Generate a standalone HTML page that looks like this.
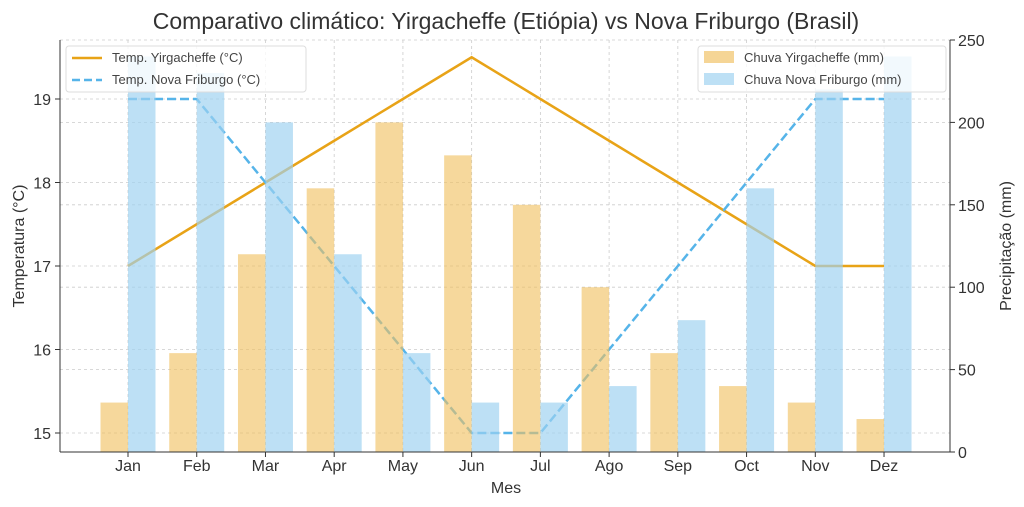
<!DOCTYPE html>
<html><head><meta charset="utf-8"><style>body{margin:0;background:#fff}svg{display:block;font-family:"Liberation Sans","DejaVu Sans",sans-serif}</style></head>
<body>
<svg width="1024" height="507" viewBox="0 0 1024 507" xmlns="http://www.w3.org/2000/svg">
<rect width="1024" height="507" fill="#fff"/>
<text x="506" y="29" font-size="23" text-anchor="middle" fill="#333">Comparativo climático: Yirgacheffe (Etiópia) vs Nova Friburgo (Brasil)</text>
<g stroke="#ccc" stroke-dasharray="3,3" stroke-width="0.8" id="grid"></g>
<g id="lines"></g>
<g id="bars"></g>
<g id="axes"></g>
<line x1="60" y1="40" x2="60" y2="452" stroke="#333" stroke-width="1"/>
<line x1="950" y1="40" x2="950" y2="452" stroke="#333" stroke-width="1"/>
<line x1="60" y1="452" x2="950" y2="452" stroke="#333" stroke-width="1"/>
<text transform="translate(24,246) rotate(-90)" font-size="16" text-anchor="middle" fill="#333">Temperatura (°C)</text>
<text transform="translate(1011,246) rotate(-90)" font-size="16" text-anchor="middle" fill="#333">Precipitação (mm)</text>
<text x="506" y="493" font-size="16" text-anchor="middle" fill="#333">Mes</text>
<g font-size="13" fill="#444">
<rect x="66" y="46" width="240" height="46" fill="#fff" fill-opacity="0.8" stroke="#ddd" rx="3"/>
<line x1="72" y1="58" x2="102" y2="58" stroke="#e8a317" stroke-width="2.5"/>
<text x="112" y="62">Temp. Yirgacheffe (°C)</text>
<line x1="72" y1="80" x2="102" y2="80" stroke="#56b4e9" stroke-width="2.5" stroke-dasharray="8,4"/>
<text x="112" y="84">Temp. Nova Friburgo (°C)</text>
<rect x="698" y="46" width="248" height="46" fill="#fff" fill-opacity="0.8" stroke="#ddd" rx="3"/>
<rect x="704" y="51" width="30" height="12" fill="#f5d596"/>
<text x="744" y="62">Chuva Yirgacheffe (mm)</text>
<rect x="704" y="73" width="30" height="12" fill="#bde0f5"/>
<text x="744" y="84">Chuva Nova Friburgo (mm)</text>
</g>
<script>
const ns="http://www.w3.org/2000/svg";
function el(p,t,a,txt){const e=document.createElementNS(ns,t);for(const k in a)e.setAttribute(k,a[k]);if(txt!==undefined)e.textContent=txt;document.getElementById(p).appendChild(e);return e;}
const m=["Jan","Feb","Mar","Apr","May","Jun","Jul","Ago","Sep","Oct","Nov","Dez"];
const cx=i=>128+i*68.73;
const ty=t=>433-(t-15)*83.5;
const ry=r=>452-r*1.648;
const yr=[30,60,120,160,200,180,150,100,60,40,30,20];
const nr=[240,230,200,120,60,30,30,40,80,160,220,240];
const yt=[17,17.5,18,18.5,19,19.5,19,18.5,18,17.5,17,17];
const nt=[19,19,18,17,16,15,15,16,17,18,19,19];
for(let i=0;i<12;i++){el("grid","line",{x1:cx(i),x2:cx(i),y1:40,y2:452});
el("axes","line",{x1:cx(i),x2:cx(i),y1:452,y2:457,stroke:"#333"});
el("axes","text",{x:cx(i),y:471,"font-size":16,"text-anchor":"middle",fill:"#333"},m[i]);}
for(let t=15;t<=19;t++){const y=ty(t);el("grid","line",{x1:60,x2:950,y1:y,y2:y});
el("axes","line",{x1:55,x2:60,y1:y,y2:y,stroke:"#333"});
el("axes","text",{x:51,y:y+6,"font-size":16,"text-anchor":"end",fill:"#333"},t);}
for(let r=0;r<=250;r+=50){const y=ry(r);el("grid","line",{x1:60,x2:950,y1:y,y2:y});
el("axes","line",{x1:950,x2:955,y1:y,y2:y,stroke:"#333"});
el("axes","text",{x:958,y:y+6,"font-size":16,fill:"#333"},r);}
el("lines","polyline",{points:yt.map((t,i)=>cx(i)+","+ty(t)).join(" "),fill:"none",stroke:"#e8a317","stroke-width":2.5});
el("lines","polyline",{points:nt.map((t,i)=>cx(i)+","+ty(t)).join(" "),fill:"none",stroke:"#56b4e9","stroke-width":2.5,"stroke-dasharray":"9,4"});
for(let i=0;i<12;i++){
el("bars","rect",{x:cx(i)-27.5,y:ry(yr[i]),width:27.5,height:yr[i]*1.648,fill:"#f0c060","fill-opacity":0.62});
el("bars","rect",{x:cx(i),y:ry(nr[i]),width:27.5,height:nr[i]*1.648,fill:"#9ed2f0","fill-opacity":0.68});}
</script>
</svg>
</body></html>
